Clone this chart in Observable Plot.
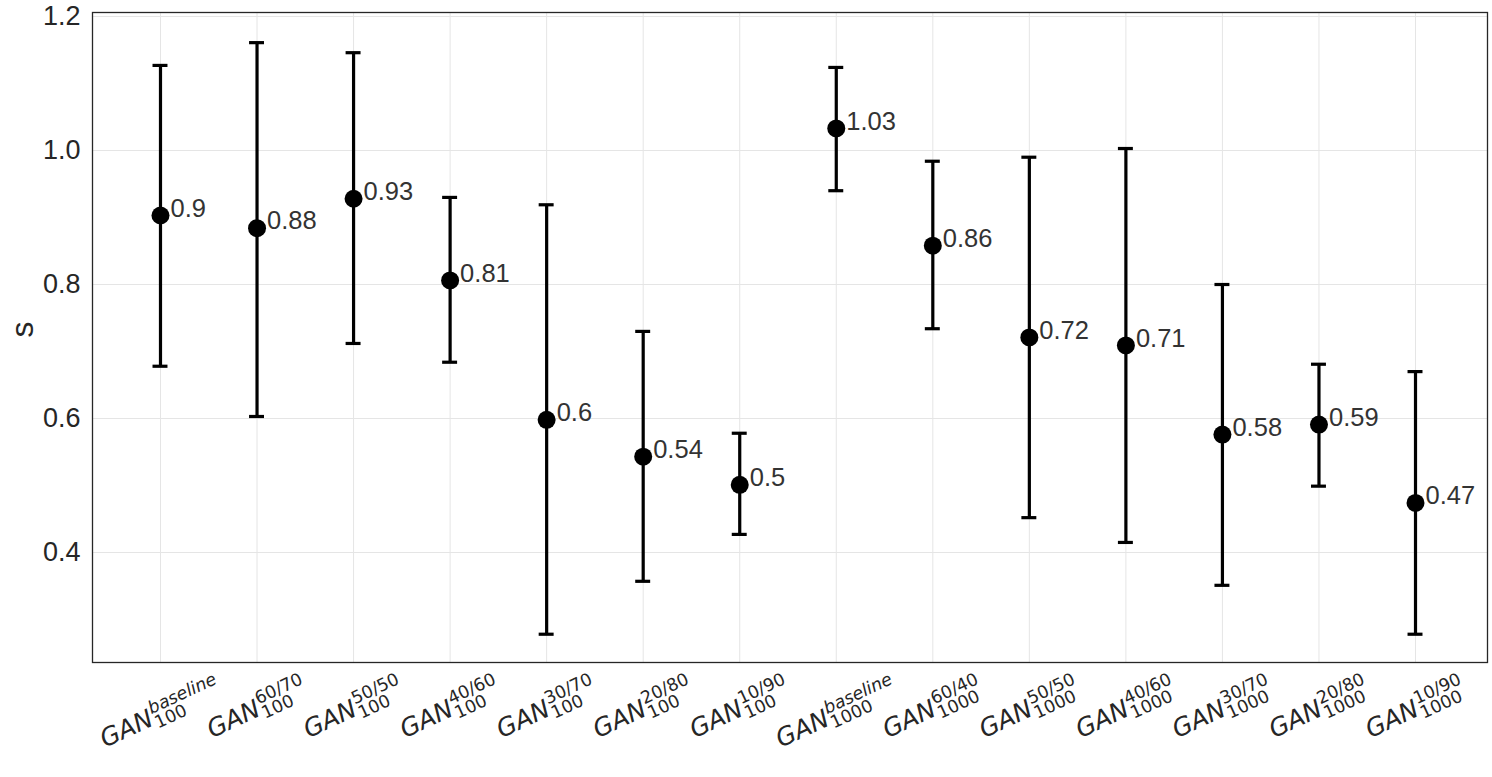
<!DOCTYPE html>
<html>
<head>
<meta charset="utf-8">
<script src="https://cdn.jsdelivr.net/npm/d3@7"></script>
<script src="https://cdn.jsdelivr.net/npm/@observablehq/plot@0.6"></script>
<style>
  html, body { margin: 0; padding: 0; background: #fff; }
  #chart svg { display: block; }
</style>
</head>
<body>
<div id="chart"></div>
<script>
// ---- data ----
const superscripts = ["baseline","60/70","50/50","40/60","30/70","20/80","10/90",
                      "baseline","60/40","50/50","40/60","30/70","20/80","10/90"];
const subscripts   = ["100","100","100","100","100","100","100",
                      "1000","1000","1000","1000","1000","1000","1000"];
const means = [0.903, 0.884, 0.928, 0.806, 0.598, 0.543, 0.501,
               1.033, 0.858, 0.721, 0.709, 0.576, 0.591, 0.474];
const lows  = [0.678, 0.603, 0.712, 0.684, 0.278, 0.357, 0.427,
               0.940, 0.734, 0.452, 0.415, 0.351, 0.499, 0.278];
const highs = [1.127, 1.161, 1.146, 0.930, 0.919, 0.730, 0.578,
               1.124, 0.984, 0.990, 1.003, 0.800, 0.681, 0.670];
const yTicks = [0.4, 0.6, 0.8, 1.0, 1.2];
const yLabel = "s";

const keys = superscripts.map((s, i) => `${subscripts[i]}|${s}`);
const data = keys.map((k, i) => ({
  key: k, mean: means[i], lo: lows[i], hi: highs[i],
  label: String(+means[i].toFixed(2))
}));

const ink = "#262626";

const chart = Plot.plot({
  width: 1492,
  height: 777,
  marginLeft: 92,
  marginRight: 5,
  marginTop: 12,
  marginBottom: 115,
  style: { fontFamily: "'Liberation Sans', Arial, sans-serif", color: ink, background: "#fff" },
  x: { type: "band", domain: keys, range: [90, 1485], round: false, paddingInner: 0.845, paddingOuter: 0.6475 },
  y: { domain: [0.2358, 1.206], ticks: yTicks },
  marks: [
    Plot.gridX(keys, { stroke: "#e5e5e5", strokeOpacity: 1, strokeWidth: 1 }),
    Plot.gridY(yTicks, { stroke: "#e5e5e5", strokeOpacity: 1, strokeWidth: 1 }),
    Plot.frame({ stroke: ink, strokeWidth: 1.3 }),
    Plot.axisY(yTicks, { tickFormat: ".1f", tickSize: 0, tickPadding: 12, fontSize: 27, label: null, fill: ink }),
    Plot.axisX({ tickSize: 0, tickPadding: 0, tickRotate: -25, textAnchor: "middle", lineAnchor: "middle",
                 fontSize: 25, tickFormat: d => d, label: null, fill: ink }),
    Plot.text([yLabel], { frameAnchor: "left", rotate: -90, dx: -70, fontSize: 32, fill: ink }),
    Plot.ruleX(data, { x: "key", y1: "lo", y2: "hi", stroke: "#000", strokeWidth: 3.2 }),
    Plot.tickY(data, { x: "key", y: "hi", stroke: "#000", strokeWidth: 3.2 }),
    Plot.tickY(data, { x: "key", y: "lo", stroke: "#000", strokeWidth: 3.2 }),
    Plot.dot(data, { x: "key", y: "mean", r: 9, fill: "#000", stroke: "none" }),
    Plot.text(data, { x: "key", y: "mean", text: "label", dx: 10, dy: -7, textAnchor: "start",
                      fontSize: 25.5, fill: "#333" })
  ]
});
document.getElementById("chart").appendChild(chart);

// ---- rich tick labels: GAN with superscript and subscript (mathtext style) ----
const canvas = document.createElement("canvas");
const ctx = canvas.getContext("2d");
function measure(text, size, italic) {
  ctx.font = `${italic ? "italic " : ""}${size}px 'DejaVu Sans'`;
  return ctx.measureText(text).width;
}
const mainSize = 25, scriptSize = 17.5, supShift = -11, subShift = 5, angle = 25;
d3.select(chart).selectAll('g[aria-label="x-axis tick label"] text').each(function() {
  const t = d3.select(this);
  const raw = this.textContent;
  const [sub, sup] = raw.split("|");
  const supItalic = !/\d/.test(sup);
  const wG = measure("GAN", mainSize, true);
  const wSup = measure(sup, scriptSize, supItalic);
  const wSub = measure(sub, scriptSize, false);
  const W = wG + 1 + Math.max(wSup, wSub);
  const H = 30;
  const x0 = -W / 2;
  const base = 10;
  t.text(null)
   .attr("text-anchor", "start")
   .attr("font-family", "'DejaVu Sans', sans-serif")
   .attr("y", null).attr("dy", null);
  t.append("tspan").attr("x", x0).attr("y", base)
   .attr("font-size", mainSize).attr("font-style", "italic").text("GAN");
  t.append("tspan").attr("x", x0 + wG + 1).attr("y", base + supShift)
   .attr("font-size", scriptSize).attr("font-style", supItalic ? "italic" : "normal").text(sup);
  t.append("tspan").attr("x", x0 + wG + 1).attr("y", base + subShift)
   .attr("font-size", scriptSize).attr("font-style", "normal").text(sub);
  const a = angle * Math.PI / 180;
  const halfH = (W / 2) * Math.sin(a) + (H / 2) * Math.cos(a);
  const tr = t.attr("transform") || "";
  const m = tr.match(/translate\(\s*([-\d.e]+)\s*[, ]\s*([-\d.e]+)\s*\)/);
  if (m) {
    const px = +m[1], py = +m[2];
    t.attr("transform", `translate(${px - 1},${py + 8 + halfH}) rotate(${-angle})`);
  }
});
</script>
</body>
</html>
